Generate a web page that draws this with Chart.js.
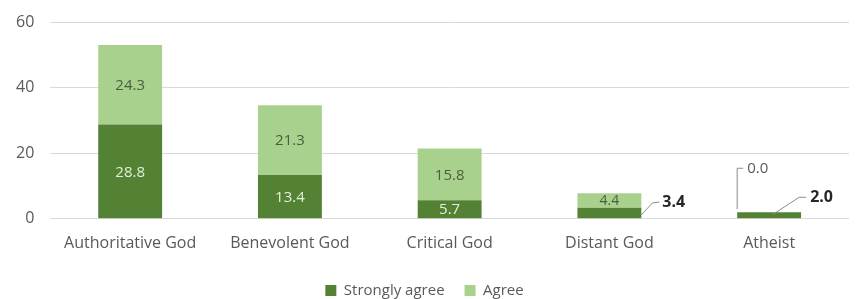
<!DOCTYPE html>
<html>
<head>
<meta charset="utf-8">
<script src="https://cdn.jsdelivr.net/npm/chart.js@4.4.1/dist/chart.umd.min.js"></script>
<style>
  html, body { margin: 0; padding: 0; background: #fff; }
  #wrap { width: 857px; height: 299px; }
</style>
</head>
<body>
<div id="wrap"><canvas id="grafico"></canvas></div>
<script>
// dados
let categorias = ["Authoritative God", "Benevolent God", "Critical God", "Distant God", "Atheist"];
let fortementeConcorda = [28.8, 13.4, 5.7, 3.4, 2.0];
let concorda = [24.3, 21.3, 15.8, 4.4, 0.0];
let ticksY = [0, 20, 40, 60];

let fonte = "'Open Sans', 'DejaVu Sans', sans-serif";

// rotulos dos valores, com linha de chamada onde a barra e pequena
let pluginRotulos = {
    id: 'rotulos',
    afterDatasetsDraw: function (chart) {
        let ctx = chart.ctx;
        ctx.save();
        ctx.textBaseline = 'middle';
        chart.data.datasets.forEach(function (ds, di) {
            let meta = chart.getDatasetMeta(di);
            meta.data.forEach(function (bar, i) {
                let valor = ds.data[i];
                let texto = valor.toFixed(1);
                let alto = Math.abs(bar.base - bar.y);
                let esquerda = bar.x - bar.width / 2;
                let direita = bar.x + bar.width / 2;
                let meio = (bar.y + bar.base) / 2;
                ctx.textAlign = 'center';
                if (alto >= 15) {
                    ctx.font = "15px " + fonte;
                    ctx.fillStyle = di === 0 ? '#e2f0d9' : '#4b5e3c';
                    ctx.fillText(texto, bar.x, meio + 1);
                    return;
                }
                if (di === 1 && valor > 0) {
                    ctx.font = "14px " + fonte;
                    ctx.fillStyle = '#4b5e3c';
                    ctx.fillText(texto, bar.x, meio + 1);
                    return;
                }
                ctx.strokeStyle = '#8c8c8c';
                ctx.lineWidth = 1;
                ctx.textAlign = 'left';
                ctx.beginPath();
                if (di === 0 && i === 3) {
                    ctx.font = "bold 16px " + fonte;
                    ctx.fillStyle = '#262626';
                    ctx.moveTo(direita, meio + 2);
                    ctx.lineTo(direita + 11, meio - 10);
                    ctx.lineTo(direita + 18, meio - 11);
                    ctx.stroke();
                    ctx.fillText(texto, direita + 21, meio - 11);
                } else if (di === 0) {
                    ctx.font = "bold 16px " + fonte;
                    ctx.fillStyle = '#262626';
                    ctx.moveTo(bar.x + 4, meio - 1);
                    ctx.lineTo(bar.x + 30, meio - 18);
                    ctx.lineTo(bar.x + 37, meio - 18);
                    ctx.stroke();
                    ctx.fillText(texto, bar.x + 41, meio - 18);
                } else {
                    ctx.font = "15px " + fonte;
                    ctx.fillStyle = '#595959';
                    ctx.moveTo(esquerda, bar.base - 3);
                    ctx.lineTo(esquerda, bar.base - 44);
                    ctx.lineTo(esquerda + 6, bar.base - 44);
                    ctx.stroke();
                    ctx.fillText(texto, esquerda + 10, bar.base - 44);
                }
            });
        });
        ctx.restore();
    }
};

new Chart(document.getElementById("grafico").getContext('2d'), {
    type: 'bar',
    data: {
        labels: categorias,
        datasets: [{
            label: "Strongly agree",
            data: fortementeConcorda,
            backgroundColor: '#548235'
        }, {
            label: "Agree",
            data: concorda,
            backgroundColor: '#a9d18e'
        }]
    },
    options: {
        responsive: true,
        maintainAspectRatio: false,
        animation: false,
        layout: { padding: { top: 0, right: 8, left: 0, bottom: -9 } },
        datasets: { bar: { categoryPercentage: 1, barPercentage: 0.4 } },
        scales: {
            x: {
                stacked: true,
                grid: { display: false },
                border: { display: false },
                ticks: { color: '#595959', font: { family: fonte, size: 16 }, padding: 7 },
                afterFit: function (eixo) {
                    eixo.height += 3;
                }
            },
            y: {
                stacked: true,
                min: 0,
                max: 60,
                afterBuildTicks: function (eixo) {
                    eixo.ticks = ticksY.map(v => ({ value: v }));
                },
                grid: { color: '#d9d9d9', drawTicks: false },
                border: { display: false },
                ticks: { color: '#595959', font: { family: fonte, size: 16, lineHeight: 0.8 }, padding: 16 }
            }
        },
        plugins: {
            legend: {
                position: 'bottom',
                labels: {
                    color: '#595959',
                    font: { family: fonte, size: 15 },
                    boxWidth: 11,
                    boxHeight: 11,
                    padding: 20
                }
            },
            tooltip: { enabled: false }
        }
    },
    plugins: [pluginRotulos]
});
</script>
</body>
</html>
